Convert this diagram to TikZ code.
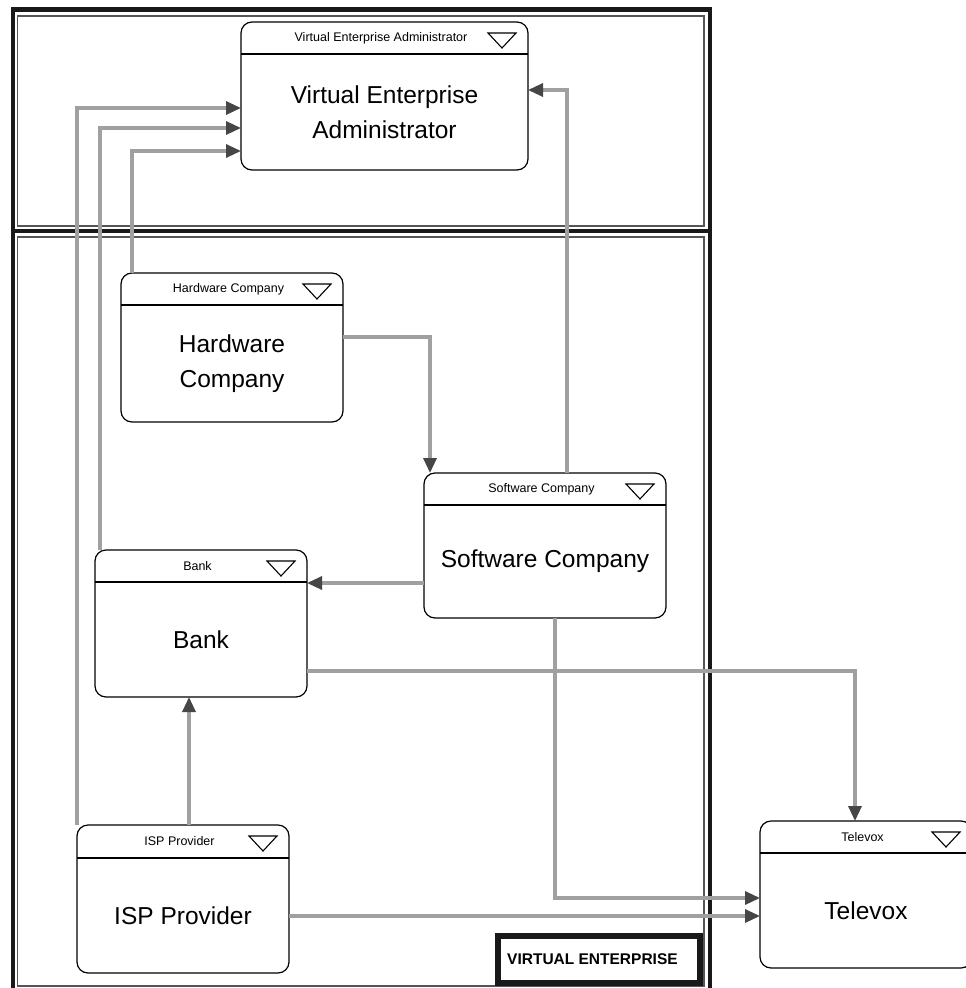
\documentclass[tikz,border=0pt]{standalone}
\usepackage{fontspec}
\setmainfont{Liberation Sans}
\usetikzlibrary{arrows.meta,calc}
\definecolor{conngray}{RGB}{160,160,160}
\definecolor{arrgray}{RGB}{70,70,70}
\definecolor{framegray}{RGB}{85,85,85}
\tikzset{
  ubox/.style={draw=black, line width=1.2pt, rounded corners=11pt, fill=white, inner sep=0pt, outer sep=0pt, rectangle},
  uline/.style={draw=black, line width=1.1pt},
  uhdr/.style={font=\fontsize{12.5}{14}\selectfont, inner sep=0pt},
  umain/.style={font=\fontsize{24.5}{35}\selectfont, align=center, inner sep=0pt},
  conn/.style={draw=conngray, line width=3.2pt, -{Triangle[length=15pt,width=13pt,color=arrgray]}},
  thickframe/.style={draw=black!90, line width=4.5pt},
  thinframe/.style={draw=framegray, line width=1.5pt},
}
\newcommand\umlbox[8]{%
  \node[ubox, minimum width={#4-#2}, minimum height={#5-#3}] (#1) at ({(#2+#4)/2},{(#3+#5)/2}) {};
  \draw[uline] (#2,#6) -- (#4,#6);
  \draw[uline] ({#4-40},{#3+11}) -- ({#4-12},{#3+11}) -- ({#4-26},{#3+26}) -- cycle;
  \node[uhdr] at ({(#2+#4)/2-3.5},{(#3+#6)/2}) {#7};
  \node[umain] at ({(#2+#4)/2},{(#6+#5)/2}) {#8};
}
\begin{document}
\begin{tikzpicture}[x=1pt,y=-1pt]
\useasboundingbox (0,0) rectangle (966,988);
\clip (0,0) rectangle (966,988);
\fill[white] (0,0) rectangle (966,988);
% frames
\draw[thickframe] (13,9.5) rectangle (710,231);
\draw[thickframe] (13,231) rectangle (710,994);
\draw[thinframe] (17.5,16) rectangle (704,226);
\draw[thinframe] (17.5,237) rectangle (704,986);
% label
\draw[draw=black!90, line width=6.5pt, fill=white] (498,936) rectangle (700,983);
\node[font=\bfseries\fontsize{15.5}{17}\selectfont, anchor=west, inner sep=0pt] (velabel) at (507,959) {VIRTUAL ENTERPRISE};
% boxes
\umlbox{vea}{241}{22}{528}{170}{54}{Virtual Enterprise Administrator}{Virtual Enterprise\\Administrator}
\umlbox{hc}{121}{273}{343}{422}{305}{Hardware Company}{Hardware\\Company}
\umlbox{sc}{424}{473}{666}{618}{505}{Software Company}{Software Company}
\umlbox{bank}{95}{550}{307}{697}{582}{Bank}{Bank}
\umlbox{isp}{77}{825}{289}{973}{858}{ISP Provider}{ISP Provider}
\umlbox{tv}{760}{821}{972}{968}{853}{Televox}{Televox}
% connectors
\draw[conn] (isp.north -| 77,0) |- (vea.west |- 0,108);
\draw[conn] (bank.north -| 100,0) |- (vea.west |- 0,128);
\draw[conn] (hc.north -| 132,0) |- (vea.west |- 0,151);
\draw[conn] (sc.north -| 567,0) |- (vea.east |- 0,90);
\draw[conn] (hc.east |- 0,337) -| (sc.north -| 430,0);
\draw[conn] (sc.west |- 0,583) -- (bank.east |- 0,583);
\draw[conn] (bank.east |- 0,671) -| (tv.north -| 855,0);
\draw[conn] (sc.south -| 555,0) |- (tv.west |- 0,898);
\draw[conn] (isp.north -| 189,0) -- (bank.south -| 189,0);
\draw[conn] (isp.east |- 0,916) -- (tv.west |- 0,916);
\end{tikzpicture}
\end{document}
